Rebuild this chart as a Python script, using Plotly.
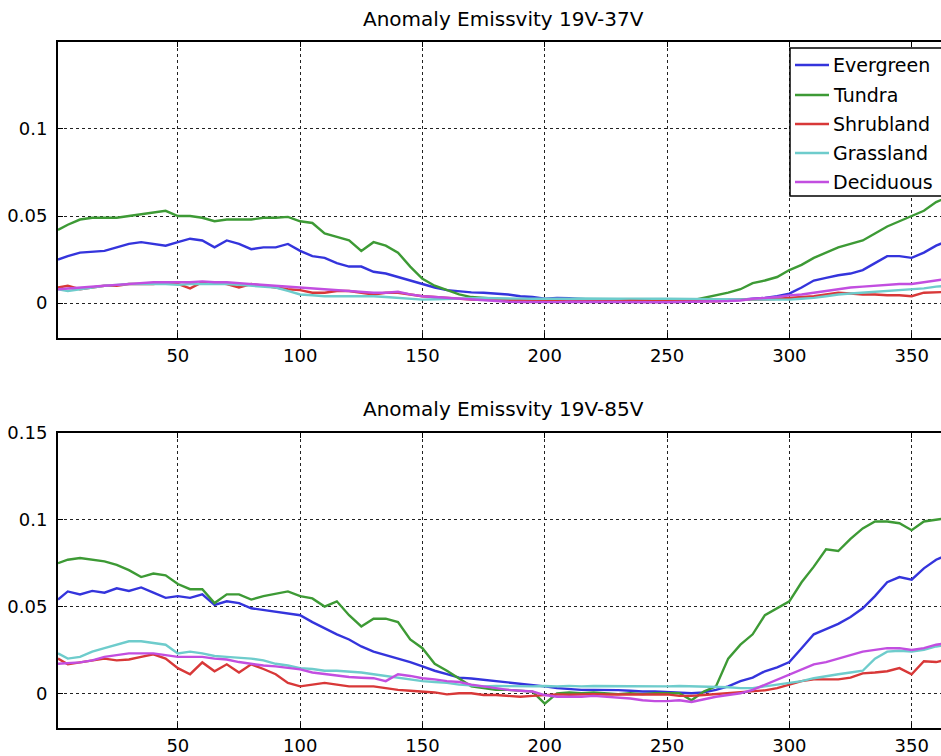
import plotly.graph_objects as go

# ---------------- data ----------------
days = [1] + list(range(5, 366, 5))

series_names = ["Evergreen", "Tundra", "Shrubland", "Grassland", "Deciduous"]
series_colors = ["#3434dc", "#3d9a35", "#d83838", "#6ecccc", "#c24ee0"]

titles = ["Anomaly Emissvity 19V-37V", "Anomaly Emissvity 19V-85V"]

x_tickvals = [50, 100, 150, 200, 250, 300, 350]
x_ticktext = ["50", "100", "150", "200", "250", "300", "350"]
y_tickvals_top = [0, 0.05, 0.1]
y_ticktext_top = ["0", "0.05", "0.1"]
y_tickvals_bot = [0, 0.05, 0.1, 0.15]
y_ticktext_bot = ["0", "0.05", "0.1", "0.15"]

# 19V-37V
ever_37 = [0.025, 0.027, 0.029, 0.0295, 0.030, 0.032, 0.034, 0.035, 0.034, 0.033,
           0.035, 0.037, 0.036, 0.032, 0.036, 0.034, 0.031, 0.032, 0.032, 0.034,
           0.030, 0.027, 0.026, 0.023, 0.021, 0.021, 0.018, 0.017, 0.015, 0.013,
           0.011, 0.009, 0.0075, 0.0068, 0.0062, 0.006, 0.0055, 0.005, 0.004, 0.0035,
           0.0025, 0.003, 0.0028, 0.0025, 0.002, 0.0022, 0.002, 0.0018, 0.002, 0.0015,
           0.0015, 0.0015, 0.0015, 0.0015, 0.0018, 0.002, 0.002, 0.0025, 0.003, 0.004,
           0.0055, 0.009, 0.013, 0.0145, 0.016, 0.017, 0.019, 0.023, 0.027, 0.027,
           0.026, 0.029, 0.033, 0.036]
tund_37 = [0.042, 0.045, 0.048, 0.049, 0.049, 0.049, 0.050, 0.051, 0.052, 0.053,
           0.050, 0.050, 0.049, 0.047, 0.048, 0.048, 0.048, 0.049, 0.049, 0.0495,
           0.047, 0.046, 0.040, 0.038, 0.036, 0.030, 0.035, 0.033, 0.029, 0.021,
           0.014, 0.010, 0.0075, 0.005, 0.0035, 0.003, 0.0025, 0.002, 0.002, 0.002,
           0.0018, 0.002, 0.0018, 0.0015, 0.0015, 0.0015, 0.0012, 0.0012, 0.0012, 0.0012,
           0.001, 0.001, 0.0015, 0.003, 0.0045, 0.006, 0.008, 0.0115, 0.013, 0.015,
           0.019, 0.022, 0.026, 0.029, 0.032, 0.034, 0.036, 0.040, 0.044, 0.047,
           0.050, 0.053, 0.058, 0.061]
shrub_37 = [0.009, 0.010, 0.008, 0.009, 0.010, 0.010, 0.011, 0.011, 0.011, 0.012,
            0.011, 0.0085, 0.012, 0.012, 0.011, 0.009, 0.011, 0.010, 0.009, 0.008,
            0.0075, 0.006, 0.006, 0.007, 0.007, 0.006, 0.005, 0.006, 0.006, 0.005,
            0.004, 0.0035, 0.003, 0.0025, 0.002, 0.002, 0.0018, 0.0018, 0.002, 0.0017,
            0.0015, 0.0018, 0.0016, 0.0015, 0.0018, 0.0016, 0.0015, 0.0017, 0.0015, 0.0014,
            0.0015, 0.0013, 0.0012, 0.001, 0.001, 0.0015, 0.002, 0.002, 0.002, 0.0025,
            0.003, 0.0035, 0.004, 0.005, 0.006, 0.0055, 0.005, 0.005, 0.0045, 0.0045,
            0.004, 0.006, 0.0062, 0.0065]
grass_37 = [0.008, 0.007, 0.008, 0.009, 0.010, 0.0105, 0.011, 0.011, 0.011, 0.011,
            0.0105, 0.011, 0.011, 0.011, 0.011, 0.0105, 0.010, 0.0095, 0.009, 0.007,
            0.005, 0.0045, 0.004, 0.004, 0.004, 0.004, 0.004, 0.0035, 0.003, 0.0025,
            0.002, 0.0022, 0.0025, 0.0025, 0.0028, 0.003, 0.0028, 0.0025, 0.0026, 0.0025,
            0.0024, 0.0026, 0.0025, 0.0027, 0.0025, 0.0024, 0.0025, 0.0026, 0.0024, 0.0025,
            0.0026, 0.0025, 0.0024, 0.0025, 0.002, 0.002, 0.002, 0.002, 0.002, 0.002,
            0.002, 0.0025, 0.003, 0.004, 0.005, 0.0055, 0.006, 0.0065, 0.007, 0.0075,
            0.008, 0.0085, 0.0095, 0.010]
decid_37 = [0.008, 0.0085, 0.009, 0.0095, 0.010, 0.0105, 0.011, 0.0115, 0.012, 0.012,
            0.012, 0.012, 0.0125, 0.012, 0.012, 0.0115, 0.011, 0.0105, 0.010, 0.0095,
            0.009, 0.0085, 0.008, 0.0075, 0.007, 0.0065, 0.006, 0.006, 0.0065, 0.005,
            0.004, 0.0035, 0.003, 0.0025, 0.002, 0.0015, 0.001, 0.0008, 0.0007, 0.0006,
            0.0005, 0.0006, 0.0008, 0.0007, 0.0008, 0.0006, 0.0005, 0.0006, 0.0005, 0.0005,
            0.0005, 0.0006, 0.0005, 0.0007, 0.001, 0.0012, 0.0015, 0.0025, 0.003, 0.0035,
            0.0045, 0.005, 0.006, 0.007, 0.008, 0.009, 0.0095, 0.010, 0.0105, 0.011,
            0.011, 0.012, 0.013, 0.014]

# 19V-85V
ever_85 = [0.054, 0.0587, 0.057, 0.059, 0.058, 0.0605, 0.059, 0.061, 0.058, 0.055,
           0.056, 0.055, 0.057, 0.051, 0.053, 0.052, 0.049, 0.048, 0.047, 0.046,
           0.045, 0.041, 0.0375, 0.034, 0.031, 0.027, 0.024, 0.022, 0.020, 0.018,
           0.0155, 0.013, 0.011, 0.009, 0.0085, 0.0078, 0.007, 0.006, 0.0055, 0.005,
           0.004, 0.003, 0.0025, 0.002, 0.002, 0.002, 0.0018, 0.0015, 0.001, 0.001,
           0.0008, 0.0003, 0.0, 0.0005, 0.002, 0.004, 0.007, 0.009, 0.0127, 0.015,
           0.018, 0.026, 0.034, 0.037, 0.040, 0.044, 0.049, 0.056, 0.064, 0.067,
           0.0655, 0.072, 0.077, 0.080]
tund_85 = [0.075, 0.077, 0.078, 0.077, 0.076, 0.074, 0.071, 0.067, 0.069, 0.068,
           0.063, 0.060, 0.060, 0.052, 0.057, 0.057, 0.054, 0.056, 0.0575, 0.0587,
           0.056, 0.0547, 0.050, 0.053, 0.045, 0.0385, 0.043, 0.043, 0.041, 0.031,
           0.026, 0.017, 0.013, 0.0086, 0.004, 0.003, 0.002, 0.002, 0.0015, 0.001,
           -0.006, 0.0, 0.0005, 0.0, 0.0005, 0.0, -0.0005, 0.0, -0.0005, 0.0,
           0.0, 0.0, -0.004, 0.001, 0.004, 0.020, 0.028, 0.034, 0.045, 0.049,
           0.053, 0.064, 0.073, 0.083, 0.082, 0.089, 0.095, 0.099, 0.099, 0.098,
           0.094, 0.099, 0.100, 0.101]
shrub_85 = [0.020, 0.0167, 0.0178, 0.019, 0.020, 0.019, 0.0195, 0.021, 0.0225, 0.020,
            0.0145, 0.011, 0.0178, 0.0127, 0.0167, 0.012, 0.0167, 0.014, 0.011, 0.006,
            0.004, 0.005, 0.006, 0.005, 0.004, 0.004, 0.004, 0.003, 0.002, 0.0015,
            0.001, 0.0005, -0.0006, 0.0, 0.0, -0.001, -0.001, -0.0015, -0.002, -0.0015,
            -0.001, -0.0006, -0.0008, -0.0006, -0.0005, -0.0007, -0.0006, -0.0008, -0.0006, -0.0007,
            -0.0006, -0.0015, -0.0015, -0.001, -0.0005, 0.0, 0.0005, 0.001, 0.0017, 0.003,
            0.005, 0.007, 0.008, 0.008, 0.008, 0.009, 0.0115, 0.012, 0.0127, 0.0145,
            0.011, 0.0185, 0.018, 0.0195]
grass_85 = [0.023, 0.020, 0.021, 0.024, 0.026, 0.028, 0.030, 0.030, 0.029, 0.028,
            0.023, 0.024, 0.023, 0.0215, 0.021, 0.0205, 0.020, 0.019, 0.017, 0.016,
            0.0145, 0.014, 0.013, 0.013, 0.0127, 0.012, 0.011, 0.010, 0.0087, 0.008,
            0.007, 0.0065, 0.006, 0.005, 0.0045, 0.004, 0.0042, 0.004, 0.0041, 0.004,
            0.0042, 0.004, 0.0043, 0.004, 0.0042, 0.0041, 0.004, 0.0042, 0.004, 0.0041,
            0.004, 0.0042, 0.004, 0.0041, 0.004, 0.0035, 0.003, 0.003, 0.004, 0.005,
            0.0058, 0.007, 0.0087, 0.010, 0.011, 0.012, 0.013, 0.020, 0.024, 0.0245,
            0.024, 0.025, 0.027, 0.028]
decid_85 = [0.017, 0.0175, 0.0178, 0.019, 0.021, 0.022, 0.023, 0.023, 0.023, 0.022,
            0.021, 0.021, 0.021, 0.020, 0.0195, 0.018, 0.017, 0.016, 0.0155, 0.0145,
            0.0138, 0.012, 0.011, 0.010, 0.0094, 0.009, 0.0087, 0.007, 0.011, 0.010,
            0.0087, 0.008, 0.007, 0.0065, 0.005, 0.004, 0.003, 0.002, 0.0015, 0.001,
            -0.001, -0.002, -0.002, -0.002, -0.0015, -0.002, -0.0025, -0.003, -0.004, -0.0045,
            -0.0045, -0.004, -0.005, -0.0035, -0.002, -0.001, 0.0, 0.002, 0.005, 0.008,
            0.011, 0.014, 0.0167, 0.018, 0.020, 0.022, 0.024, 0.025, 0.026, 0.026,
            0.025, 0.026, 0.028, 0.029]

panels = [
    [ever_37, tund_37, shrub_37, grass_37, decid_37],
    [ever_85, tund_85, shrub_85, grass_85, decid_85],
]

# ---------------- figure ----------------
W, H = 941, 756
ML = 58
FONT = "DejaVu Sans, Arial, sans-serif"
fig = go.Figure()

axis_ids = [("x", "y"), ("x2", "y2")]
for p, (xa, ya) in enumerate(axis_ids):
    for name, color, vals in zip(series_names, series_colors, panels[p]):
        fig.add_trace(go.Scatter(x=days, y=vals, mode="lines", name=name,
                                 line=dict(color=color, width=2.4),
                                 xaxis=xa, yaxis=ya, showlegend=False))


def py_paper(py):
    return (H - py) / H


def px_paper(px):
    return (px - ML) / (W - ML)


tickfont = dict(family=FONT, size=18, color="black")

xaxis_common = dict(range=[1, 362], tickvals=x_tickvals, ticktext=x_ticktext,
                    showgrid=True, gridcolor="#222222", griddash="dot", gridwidth=1,
                    showline=True, linecolor="black", linewidth=2, mirror="ticks",
                    ticks="inside", ticklen=5, tickcolor="black", zeroline=False,
                    tickfont=tickfont, ticklabelstandoff=0, automargin=False)
yaxis_common = dict(showgrid=True, gridcolor="#222222", griddash="dot", gridwidth=1,
                    showline=True, linecolor="black", linewidth=2, mirror=False,
                    ticks="inside", ticklen=5, tickcolor="black", zeroline=False,
                    tickfont=tickfont, ticklabelstandoff=5, automargin=False)

fig.update_layout(
    width=W, height=H,
    margin=dict(l=ML, r=0, t=0, b=0),
    paper_bgcolor="white", plot_bgcolor="white",
    xaxis=dict(domain=[0, 1], anchor="y", **xaxis_common),
    yaxis=dict(domain=[py_paper(338), py_paper(42)], anchor="x", range=[-0.02, 0.1499],
               tickvals=y_tickvals_top, ticktext=y_ticktext_top, **yaxis_common),
    xaxis2=dict(domain=[0, 1], anchor="y2", **xaxis_common),
    yaxis2=dict(domain=[py_paper(728), py_paper(433)], anchor="x2", range=[-0.02, 0.15001],
                tickvals=y_tickvals_bot, ticktext=y_ticktext_bot, **yaxis_common),
    showlegend=False,
)

annotations = []
shapes = []
# panel titles
for title, py in zip(titles, [19, 409]):
    annotations.append(dict(text=title, x=px_paper(503), y=py_paper(py), xref="paper", yref="paper",
                            xanchor="center", yanchor="middle", showarrow=False,
                            font=dict(family=FONT, size=20, color="black")))

# legend box (top panel)
shapes.append(dict(type="rect", xref="paper", yref="paper",
                   x0=px_paper(790), x1=px_paper(960), y0=py_paper(196), y1=py_paper(48),
                   line=dict(color="black", width=1.5), fillcolor="white", layer="above"))
leg_rows = [65, 95, 124, 153, 182]
for name, color, py in zip(series_names, series_colors, leg_rows):
    shapes.append(dict(type="line", xref="paper", yref="paper",
                       x0=px_paper(795), x1=px_paper(829), y0=py_paper(py), y1=py_paper(py),
                       line=dict(color=color, width=2.4), layer="above"))
    annotations.append(dict(text=name, x=px_paper(831), y=py_paper(py), xref="paper", yref="paper",
                            xanchor="left", yanchor="middle", showarrow=False,
                            font=dict(family=FONT, size=19, color="black")))

fig.update_layout(annotations=annotations, shapes=shapes)

fig.write_html("out.html", config={"displayModeBar": False},
               post_script="document.body.style.margin='0';document.body.style.overflow='hidden';")
